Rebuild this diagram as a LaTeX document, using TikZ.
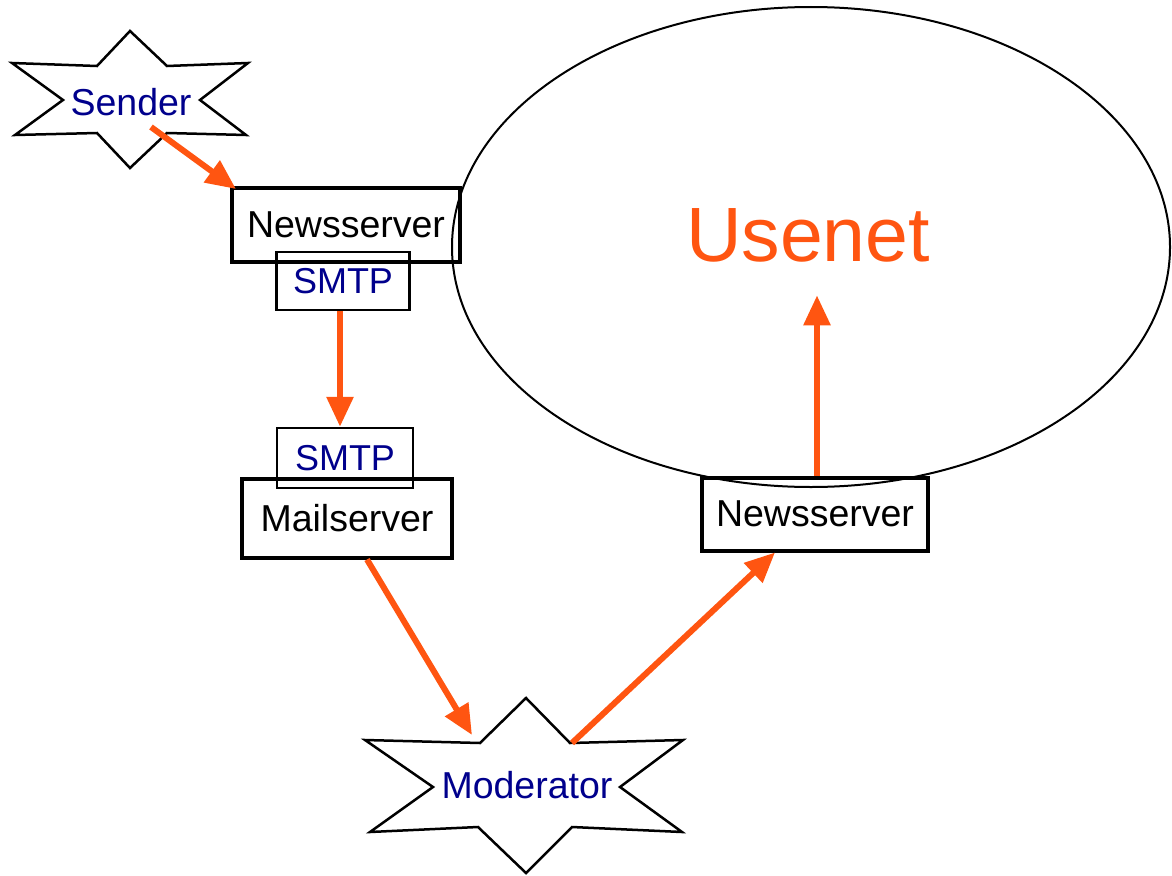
\documentclass[tikz,border=0pt]{standalone}
\usepackage{fontspec}
\setmainfont{Liberation Sans}
\usetikzlibrary{arrows.meta}
\definecolor{orng}{RGB}{255,85,17}
\definecolor{navy}{RGB}{0,0,140}
\begin{document}
\begin{tikzpicture}[x=1pt,y=-1pt,
  bigbox/.style={draw=black,line width=4pt,minimum width=#1,inner sep=0pt},
  smtpbox/.style={draw=black,line width=2.5pt,minimum width=133pt,minimum height=58pt,inner sep=0pt,text=navy,font=\fontsize{36}{40}\selectfont},
  lbl/.style={font=\fontsize{37.5}{42}\selectfont},
  starline/.style={draw=black,line width=2.5pt,line join=miter},
  flow/.style={draw=orng,line width=6pt,-{Triangle[length=30pt,width=26pt]}}]
\useasboundingbox (0,0) rectangle (1172,875);
% Usenet ellipse
\draw[line width=2pt] (811,247) ellipse [x radius=359, y radius=240];
\node[text=orng,font=\fontsize{77}{80}\selectfont] (usenet) at (808,235) {Usenet};
% Sender star
\draw[starline] (12,63) -- (97,66) -- (130,31) -- (167,66) -- (248,63) -- (200,100) -- (246,135) -- (167,133) -- (130,168) -- (97,133) -- (15,135) -- (63,100) -- cycle;
\node[text=navy,lbl] (sender) at (131,102) {Sender};
% Moderator star
\draw[starline] (365,740) -- (480,743) -- (526,698) -- (570,743) -- (683,740) -- (620,787) -- (682,832) -- (572,827) -- (526,873) -- (478,827) -- (370,832) -- (433,787) -- cycle;
\node[text=navy,lbl] (moderator) at (527,785) {Moderator};
% Boxes
\node[bigbox=228pt,minimum height=74pt,lbl] (news1) at (346,225) {Newsserver};
\node[smtpbox] (smtp1) at (343,281) {SMTP};
\node[smtpbox,minimum width=136pt,minimum height=60pt] (smtp2) at (345,458) {SMTP};
\node[bigbox=210pt,minimum height=79pt,lbl] (mail) at (347,518) {Mailserver};
\node[bigbox=226pt,minimum height=73pt,lbl] (news2) at (815,514) {Newsserver};
% Arrows
\coordinate (s1) at ([shift={(20,25)}]sender.center);
\draw[flow] (s1) -- ([shift={(6,3)}]news1.north west);
\draw[flow] ([xshift=-3]smtp1.south) -- ([xshift=-5]smtp2.north);
\draw[flow] ([xshift=20]mail.south) -- ([shift={(-55,-50)}]moderator.center);
\draw[flow] ([shift={(45,-42)}]moderator.center) -- ([xshift=-40]news2.south);
\draw[flow] ([xshift=2]news2.north) -- ([xshift=9,yshift=-30]usenet.south);
\end{tikzpicture}
\end{document}
